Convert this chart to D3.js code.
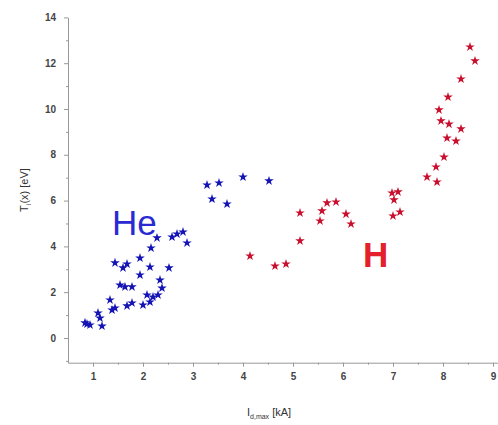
<!DOCTYPE html>
<html>
<head>
<meta charset="utf-8">
<script src="https://cdn.jsdelivr.net/npm/d3@7"></script>
<style>
  body { margin: 0; background: #fff; }
  svg { display: block; }
  .axis path, .axis line { stroke: #999; }
  .axis text { font-family: Arial, "Liberation Sans", sans-serif; font-size: 10px; font-weight: bold; fill: #444; }
  .title, .title tspan { font-family: Arial, sans-serif; fill: #333; }
</style>
</head>
<body>
<svg id="chart" width="498" height="425"></svg>
<script>
// helium shots: current [kA], ion temperature [eV]
var heI = [0.84, 0.94, 0.88, 1.10, 1.14, 1.18, 1.34, 1.38, 1.44, 1.68, 1.78,
	1.54, 1.64, 1.78, 1.44, 1.60, 1.68, 1.94, 2.14, 1.94, 2.16, 2.28,
	2.08, 2.00, 2.14, 2.20, 2.30, 2.34, 2.38, 2.52, 2.58, 2.68, 2.80, 2.88,
	3.28, 3.52, 4.00, 4.52, 3.38, 3.68];
var heT = [0.66, 0.57, 0.61, 1.09, 0.87, 0.52, 1.66, 1.22, 1.31, 1.40, 1.53,
	2.31, 2.23, 2.23, 3.28, 3.06, 3.23, 3.49, 3.10, 2.75, 3.93, 4.37,
	1.88, 1.44, 1.57, 1.79, 1.88, 2.53, 2.18, 3.06, 4.41, 4.54, 4.63, 4.15,
	6.68, 6.77, 7.03, 6.86, 6.07, 5.85];

// hydrogen shots
var hI = [4.14, 4.64, 4.86, 5.14, 5.14, 5.54, 5.58, 5.68, 5.86, 6.06, 6.16,
	6.98, 7.10, 7.02, 7.14, 7.00, 7.68, 7.88, 7.86, 8.02, 8.08, 8.26,
	8.36, 8.12, 7.96, 7.92, 8.10, 8.36, 8.64, 8.54];
var hT = [3.58, 3.14, 3.23, 4.24, 5.46, 5.11, 5.55, 5.90, 5.94, 5.41, 4.98,
	6.33, 6.38, 6.03, 5.50, 5.33, 7.03, 6.81, 7.47, 7.90, 8.73, 8.60,
	9.13, 9.34, 9.48, 9.96, 10.52, 11.31, 12.10, 12.71];

var xTicks = [1, 2, 3, 4, 5, 6, 7, 8, 9];
var yTicks = [0, 2, 4, 6, 8, 10, 12, 14];

var svg = d3.select('#chart');

var x = d3.scaleLinear().domain([0.5, 9.1]).range([68, 498]);
var y = d3.scaleLinear().domain([-1.08, 14]).range([362.7, 17.4]);

var xAxisY = y(-1.08), yAxisX = x(0.5);

// minor ticks first
svg.append('g')
	.attr('class', 'axis')
	.attr('transform', 'translate(0,' + xAxisY + ')')
	.call(d3.axisBottom(x).tickValues(d3.range(1.5, 9.1, 1)).tickSize(2).tickFormat(''))
	.select('.domain').remove();
svg.append('g')
	.attr('class', 'axis')
	.attr('transform', 'translate(' + yAxisX + ',0)')
	.call(d3.axisLeft(y).tickValues(d3.range(-1, 14, 2)).tickSize(2).tickFormat(''))
	.select('.domain').remove();

svg.append('g')
	.attr('class', 'axis')
	.attr('transform', 'translate(0,' + xAxisY + ')')
	.call(d3.axisBottom(x).tickValues(xTicks).tickSize(4).tickSizeOuter(0).tickPadding(6));

svg.append('g')
	.attr('class', 'axis')
	.attr('transform', 'translate(' + yAxisX + ',0)')
	.call(d3.axisLeft(y).tickValues(yTicks).tickSize(4).tickSizeOuter(0).tickPadding(8));

// axis titles
var xt = svg.append('text')
	.attr('class', 'title')
	.attr('x', 247).attr('y', 416)
	.style('font-size', '11px');
xt.append('tspan').text('I');
xt.append('tspan').attr('dy', 3).style('font-size', '7px').text('d,max');
xt.append('tspan').attr('dy', -3).text(' [kA]');

var yt = svg.append('text')
	.attr('class', 'title')
	.attr('transform', 'translate(28,190) rotate(-90)')
	.attr('text-anchor', 'middle')
	.style('font-size', '11px');
yt.append('tspan').text('T');
yt.append('tspan').attr('dy', 3).style('font-size', '7px').text('i');
yt.append('tspan').attr('dy', -3).text('(x) [eV]');

var star = d3.symbol().type(d3.symbolStar).size(28);

function drawSet(xs, ts, color) {
	svg.append('g').selectAll('path')
		.data(d3.zip(xs, ts))
		.enter()
		.append('path')
			.attr('d', star)
			.attr('transform', function(d) { return 'translate(' + x(d[0]) + ',' + y(d[1]) + ')'; })
			.attr('fill', color);
}

drawSet(heI, heT, '#1414b4');
drawSet(hI, hT, '#c8102e');

svg.append('text')
	.attr('x', 112).attr('y', 235)
	.style('font-family', 'Arial, sans-serif').style('font-size', '35px')
	.style('fill', '#2a2ad2')
	.text('He');

svg.append('text')
	.attr('x', 363).attr('y', 267)
	.style('font-family', 'Arial, sans-serif').style('font-size', '35px').style('font-weight', 'bold')
	.style('fill', '#e4202c')
	.text('H');
</script>
</body>
</html>
